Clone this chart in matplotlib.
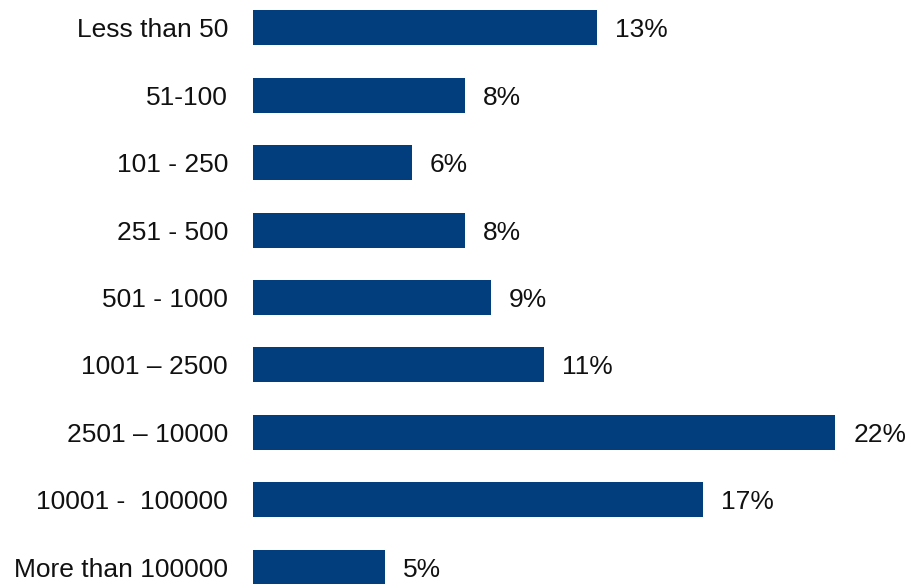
import matplotlib.pyplot as plt

plt.rcParams['font.family']=['Liberation Sans','DejaVu Sans']

categories=['Less than 50','51-100','101 - 250','251 - 500','501 - 1000',
            '1001 \u2013 2500','2501 \u2013 10000','10001 -  100000','More than 100000']
shares=[13,8,6,8,9,11,22,17,5]
bar_color='#023E7D'

fig=plt.figure(figsize=(9.12,5.84),dpi=100)
ax=fig.add_axes([253/912,0,1-253/912,1])

pos=list(range(len(categories)))
ax.barh(pos,shares,height=0.52,color=bar_color)
# percentage next to each bar
for p,v in zip(pos,shares):
    ax.text(v+0.68,p,f'{v}%',va='center_baseline',ha='left',fontsize=19,color='#111111')

ax.set_yticks(pos)
ax.set_yticklabels(categories,fontsize=19,color='#111111')
ax.tick_params(axis='y',length=0,pad=18)
ax.set_xticks([])
ax.set_xlim(0,24.9)
ax.set_ylim(8.25,-0.415)
for s in ax.spines.values():
    s.set_visible(False)

fig.savefig('out.png',dpi=100)
